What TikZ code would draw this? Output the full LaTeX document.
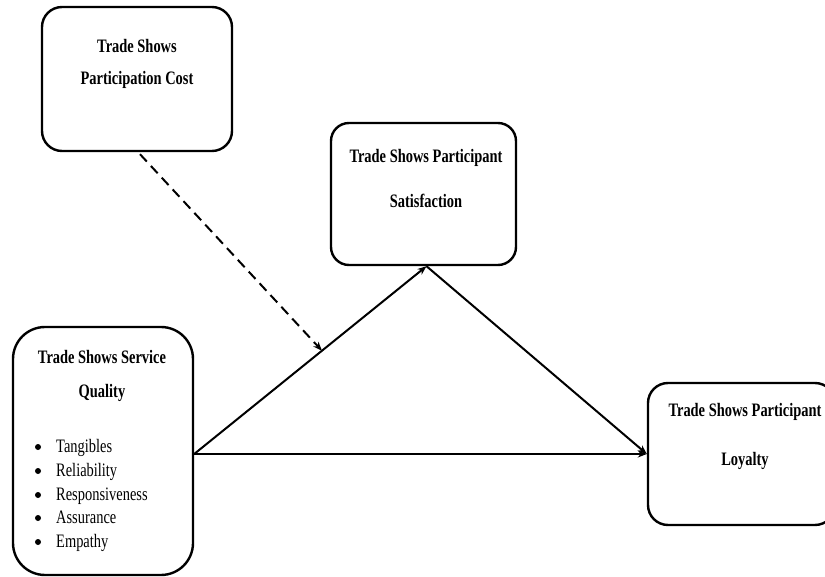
\documentclass[tikz,border=0pt]{standalone}
\usepackage{fontspec}
\setmainfont{Liberation Serif}[FakeStretch=0.76]
\usetikzlibrary{arrows.meta,calc}
\begin{document}
\begin{tikzpicture}[x=1pt,y=-1pt,
  box/.style={draw, line width=2.4pt, rounded corners=#1, inner sep=0pt},
  box/.default=18pt,
  hd/.style={font=\fontsize{19}{23}\selectfont\bfseries, anchor=base, inner sep=0pt},
  itm/.style={font=\fontsize{19}{23}\selectfont, anchor=base west, inner sep=0pt},
  dot/.style={circle, fill, inner sep=0pt, minimum size=6pt},
  arr/.style={line width=2pt, -{Stealth[length=9pt,width=7pt]}},
  darr/.style={arr, dash pattern=on 10pt off 6pt}]
\useasboundingbox (0,0) rectangle (825,577);
\clip (0,0) rectangle (825,577);
% boxes
\node[box=20pt, minimum width=190pt, minimum height=144pt] (c) at (137,79) {};
\node[box=18pt, minimum width=185pt, minimum height=142pt] (s) at (423.5,194) {};
\node[box=32pt, minimum width=180pt, minimum height=248pt] (q) at (103,451) {};
\node[box=20pt, minimum width=187pt, minimum height=142pt] (l) at (741.5,454) {};
% texts
\node[hd] (c1) at (137,53) {Trade Shows};
\node[hd] (c2) at (137,85) {Participation Cost};
\node[hd] (s1) at (426,163) {Trade Shows Participant};
\node[hd] (s2) at (426,208) {Satisfaction};
\node[hd] (q1) at (102,363) {Trade Shows Service};
\node[hd] (q2) at (102,397) {Quality};
\node[hd] (l1) at (745,417) {Trade Shows Participant};
\node[hd] (l2) at (745,465) {Loyalty};
% bullet list
\node[dot] (d1) at (38,447) {};
\node[dot] (d2) at (38,471) {};
\node[dot] (d3) at (38,495) {};
\node[dot] (d4) at (38,518) {};
\node[dot] (d5) at (38,542) {};
\node[itm] (i1) at (56,452) {Tangibles};
\node[itm] (i2) at (56,476) {Reliability};
\node[itm] (i3) at (56,500) {Responsiveness};
\node[itm] (i4) at (56,523) {Assurance};
\node[itm] (i5) at (56,547) {Empathy};
% connectors
\coordinate (qo) at (q.east |- l.west);
\coordinate (top) at ($(s.south)+(3,0)$);
\draw[arr] (qo) -- (l.west);
\draw[arr] (qo) -- (top);
\draw[arr] (top) -- (l.west);
\coordinate (mid) at ($(qo)!0.55!(top)$);
\draw[darr] ($(c.south)+(3,2)$) -- (mid);
\end{tikzpicture}
\end{document}
